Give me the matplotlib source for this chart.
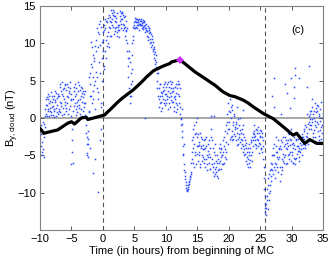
import numpy as np
import matplotlib
matplotlib.use("Agg")
import matplotlib.pyplot as plt

plt.rcParams['font.family'] = ['Liberation Sans', 'DejaVu Sans']

# ---- data ----
# scatter values sampled every 0.1 h starting at -10 h (series A)
scatter_start = -10.0
scatter_step = 0.1
scatter_vals = [
    -1.5, -3.8, -2.2, -5.0, -1.8, -4.2, -2.6, -0.8, 1.2, 2.5,
    0.5, 2.8, 1.0, 3.2, 0.3, 2.0, 1.4, 3.5, 0.8, 2.2,
    1.6, 0.4, 3.0, 1.0, 2.4, 0.2, 3.4, 1.8, 0.6, 2.9,
    1.2, 4.2, 0.8, 3.6, 2.0, 4.8, 1.4, 3.0, 0.5, 4.4,
    2.2, 3.8, 1.0, 4.6, 2.8, 0.6, 3.4, 1.6, 4.0, 2.4,
    0.2, -3.0, -6.0, 1.0, 3.6, 2.0, 4.6, 1.2, 3.2, 0.8,
    2.4, 4.8, 1.4, 3.8, 0.6, 4.2, 2.2, 3.4, 1.0, 2.8,
    3.2, 0.4, 2.0, -1.0, -2.5, -4.7, -3.5, -1.8, 0.8, 3.0,
    4.5, 10.2, 6.8, 2.0, 8.4, 3.6, 7.6, 5.0, 1.2, 9.0,
    12.0, 4.0, 9.5, 2.5, 11.2, 6.0, 13.0, 1.5, 10.2, 8.0,
    10.5, 7.0, 12.5, 9.0, 13.2, 8.0, 11.0, 12.8, 10.0, 13.8,
    9.5, 12.0, 13.5, 11.0, 14.0, 12.5, 13.8, 11.2, 14.2, 12.0,
    13.6, 12.2, 14.0, 11.0, 12.5, 10.8, 11.8, 13.0, 12.0, 14.0,
    13.2, 14.2, 11.8, 13.5, 12.5, 11.0, 13.0, 10.5, 12.0, 9.0,
    7.0, 4.0, 9.0, 2.0, 6.0, 3.0, 8.5, 5.0, 10.5, 12.0,
    12.5, 13.0, 12.2, 13.3, 12.8, 12.0, 13.1, 12.6, 11.8, 13.0,
    12.4, 13.2, 12.7, 11.9, 12.9, 12.3, 13.0, 11.5, 12.6, 12.1,
    11.0, 12.3, 10.5, 11.8, 12.0, 10.0, 11.2, 9.5, 11.0, 10.2,
    9.0, 8.0, 9.5, 7.2, 8.4, 6.8, 5.0, 3.0, 6.0, 1.5,
    4.5, 2.0, 3.5, 1.0, 3.0, 4.2, 2.5, 3.8, 1.8, 4.8,
    3.2, 2.0, 4.5, 1.2, 3.6, 2.8, 5.0, 1.5, 3.0, 4.0,
    4.8, 2.2, 3.6, 1.0, 4.2, 2.6, 0.8, 3.4, 1.8, 4.5,
    5.0, 2.0, 4.0, 0.5, -1.0, 1.2, -2.5, -3.8, -4.8, -6.2,
    -7.3, -8.2, -9.0, -9.6, -9.8, -9.5, -9.0, -8.6, -8.2, -7.8,
    -7.5, -3.0, -5.5, -1.5, -4.0, -6.5, -2.2, -5.0, -0.5, -3.8,
    -2.5, -5.8, -3.2, -4.5, -2.0, -6.2, -3.8, -5.0, -2.8, -4.2,
    -5.5, -3.0, -6.5, -4.0, -2.5, -5.0, -7.0, -3.5, -4.8, -6.0,
    -4.0, -6.8, 0.2, -3.0, -5.5, -7.2, -4.5, -6.0, -3.5, -7.5,
    -6.5, -7.8, -5.0, -7.0, -4.0, -6.0, -3.5, -5.2, -4.0, -6.2,
    -5.0, -3.0, -6.0, -2.5, -4.2, -1.0, -5.5, -2.0, 0.5, -3.5,
    1.0, -1.5, 2.5, -2.5, 0.0, -3.0, 1.8, -1.0, -2.2, 0.5,
    -1.5, -3.0, -0.5, -2.0, 1.5, -3.5, -1.0, -2.5, 0.0, -4.0,
    -2.0, -3.5, -1.0, -4.5, -2.5, -5.0, -3.0, -5.8, -4.0, -6.2,
    -5.5, -4.0, -6.0, -3.5, -6.5, -5.0, -3.0, -4.5, -2.0, -3.8,
    -2.5, -1.0, -3.5, -1.5, -4.0, -2.0, -1.2, -3.0, -4.7, -2.5,
    -3.5, -1.8, -4.2, -2.0, -3.0, -5.5, -8.0, -10.5, -12.0, -13.0,
    -11.5, -9.5, -12.2, -8.0, -10.0, -7.0, -9.0, -6.0, -8.5, -5.0,
    -5.0, -7.5, -3.5, -6.0, -8.0, -4.5, -2.5, -6.5, -3.0, -5.5,
    -4.0, -6.5, -8.5, -3.0, -5.5, -7.0, -2.5, -4.8, -6.0, -3.5,
    -5.0, -3.0, -4.2, -6.0, -2.0, -3.8, -5.5, -2.8, -4.5, -1.5,
    -3.5, -5.0, -6.0, -4.0, -2.5, -5.5, -6.2, -3.0, -4.8, -2.0,
    -3.8, -5.2, -4.0, -2.5, -4.5, -3.0, -5.0, -2.2, -3.5, -1.5,
    -2.8, -4.0, -1.0, -3.2, 0.5, -2.0, -3.5, -0.5, -1.5, 1.0,
    0.5, -1.5, 1.5, -0.5, -2.0, 0.0, 1.0, -1.0, -2.5, 0.8,
    -0.5, 1.8, -1.8, 0.3, -3.0, 1.2, -1.2, -3.5, 0.0, -2.0,
    -1.0,
]

# series B, sampled every 0.1 h starting at -9.95 h
scatter_b_start = -9.95
scatter_b_vals = [
    -2.8, -1.0, -4.5, -3.2, -0.6, -2.0, -5.2, -1.2, 0.2, 1.8,
    1.8, 0.2, 2.5, 1.2, 2.9, 0.9, 2.3, 0.4, 3.0, 1.5,
    2.6, 1.2, 0.1, 2.2, 3.6, 1.4, 0.8, 2.7, 3.2, 1.0,
    3.0, 2.2, 4.6, 1.6, 3.2, 0.4, 3.9, 2.6, 4.0, 1.8,
    4.5, 1.4, 3.0, 2.0, 4.2, 3.6, 1.2, 4.8, 2.6, 3.2,
    -1.5, -4.5, 2.6, 4.2, 1.6, 3.0, 0.4, 4.0, 2.2, 1.6,
    3.6, 1.8, 4.4, 2.6, 3.0, 1.2, 4.0, 0.3, 3.6, 2.0,
    1.5, 3.6, 0.0, -2.0, -3.5, -5.0, -2.8, 1.0, 5.5, 6.0,
    7.2, 3.0, 9.5, 5.5, 2.6, 8.0, 4.4, 9.6, 6.2, 10.4,
    5.5, 11.5, 3.5, 12.6, 7.5, 9.8, 2.0, 12.2, 5.0, 11.5,
    9.0, 11.8, 6.5, 12.0, 10.5, 13.0, 9.6, 11.5, 13.4, 12.2,
    13.0, 11.0, 14.4, 12.8, 13.2, 14.5, 12.2, 13.6, 13.0, 11.6,
    12.8, 13.4, 11.5, 12.2, 11.8, 12.5, 13.6, 14.3, 13.2, 12.6,
    14.0, 12.6, 13.8, 12.0, 13.6, 12.2, 11.6, 11.8, 10.0, 8.0,
    5.5, 8.0, 3.0, 7.5, 4.5, 10.0, 6.5, 11.0, 12.2, 12.8,
    12.0, 13.4, 12.9, 12.4, 13.2, 12.5, 12.8, 13.2, 12.4, 12.6,
    13.0, 12.0, 12.5, 13.1, 12.2, 12.8, 12.0, 12.4, 11.8, 11.6,
    11.6, 10.8, 12.0, 11.4, 10.6, 11.5, 10.2, 10.6, 9.8, 9.2,
    8.6, 9.2, 7.8, 8.8, 7.5, 6.0, 4.0, 6.5, 2.5, 4.0,
    3.0, 4.6, 2.2, 3.4, 1.4, 3.6, 4.5, 2.0, 3.2, 2.4,
    4.2, 3.0, 2.5, 4.8, 2.0, 4.2, 3.4, 2.4, 4.6, 2.2,
    3.5, 4.0, 1.5, 2.8, 3.0, 4.6, 2.0, 1.2, 4.0, 3.2,
    3.0, 4.5, 1.5, -0.2, 0.0, -1.8, -0.8, -5.0, -3.5, -7.0,
    -7.8, -8.6, -9.4, -9.7, -9.6, -9.2, -8.8, -8.4, -7.9, -7.2,
    -6.0, -4.5, -2.5, -6.0, -1.0, -3.5, -4.5, -6.2, -2.0, -4.8,
    -3.8, -2.2, -5.0, -3.6, -6.5, -4.0, -2.6, -5.8, -3.6, -5.2,
    -4.2, -6.0, -2.8, -5.5, -3.8, -6.2, -4.4, -5.2, -3.0, -6.8,
    -5.2, -2.5, -1.5, -6.2, -4.0, -6.5, -7.8, -5.0, -6.8, -5.8,
    -7.2, -6.0, -8.0, -5.5, -6.8, -4.6, -5.8, -4.2, -6.8, -5.0,
    -4.5, -6.2, -3.8, -5.2, -1.8, -4.6, -3.2, -0.5, -1.5, 2.0,
    -0.5, 0.8, -2.8, 1.5, -1.8, -2.4, -0.6, -2.8, 0.2, -1.2,
    -2.4, -0.8, -3.6, -1.4, -2.8, -0.2, -2.2, -3.2, -1.6, -2.8,
    -3.0, -1.5, -3.8, -2.2, -4.2, -3.6, -4.8, -3.4, -5.2, -4.6,
    -6.5, -5.0, -4.5, -5.6, -4.0, -3.2, -5.8, -2.6, -3.0, -2.2,
    -1.8, -3.0, -2.4, -3.6, -1.6, -2.8, -3.8, -2.0, -3.4, -1.6,
    -2.4, -4.0, -2.6, -4.6, -3.8, -6.5, -9.5, -11.5, -12.6, -12.0,
    -10.5, -11.0, -9.0, -11.0, -7.5, -9.8, -6.8, -7.8, -6.2, -7.0,
    -4.0, -6.5, -5.0, -7.0, -3.8, -6.2, -4.5, -5.2, -7.2, -4.2,
    -5.2, -3.8, -7.5, -4.2, -6.5, -3.2, -5.8, -3.8, -5.2, -2.6,
    -4.0, -6.2, -3.4, -5.0, -3.0, -4.8, -2.2, -3.6, -5.8, -3.0,
    -4.6, -6.0, -3.4, -5.4, -3.6, -4.2, -5.4, -2.8, -3.8, -4.4,
    -2.8, -4.4, -5.8, -3.4, -3.6, -4.2, -2.6, -4.0, -2.6, -3.2,
    -1.8, -3.6, -2.4, -1.2, -2.6, -0.8, -2.8, 0.2, -1.0, -0.2,
    -1.0, 1.0, -0.2, -2.6, 0.6, -1.6, 2.0, -0.4, 1.4, -1.2,
    1.0, -0.8, 1.6, -2.4, -0.4, -1.6, 2.2, -2.8, -1.0, 0.6,
]

# isolated points
extra_t = [-2.3, -2.0, -1.6, -1.2, -0.8, -0.5, -0.3, -5.0, 6.7, 15.0, 17.6,
           20.5, 22.2, 26.9, 27.2, 27.2, 28.3, 28.9, 29.2, 29.7, 29.9, 30.4,
           30.4, 30.5, 30.6, 31.1, 32.5, 32.8, 33.3, 34.3]
extra_v = [-5.2, -4.0, -7.4, -5.5, -9.9, -3.0, -1.5, -6.2, 0.0, 0.0, 0.3,
           1.1, 1.1, 3.0, 5.3, 1.5, 0.6, 4.5, 3.3, 1.3, 5.3, 4.2,
           2.7, 6.7, 5.8, 5.3, 4.2, 6.9, 2.6, 0.6]

# integrated (black) curve
curve_t = [-10.0, -9.4, -8.7, -7.2, -5.6, -5.0, -4.5, -3.45, -2.65, -2.4,
           -1.06, 0.26, 0.8, 1.1, 2.2, 3.0, 3.77, 4.8, 5.9, 6.95, 8.0, 8.8,
           9.6, 10.65, 10.9, 12.24, 13.0, 14.6, 16.2, 17.8, 19.1, 20.2, 21.0,
           22.3, 23.1, 23.9, 25.5, 27.1, 28.7, 30.25, 30.8, 32.1, 32.9, 34.0,
           35.0]
curve_v = [-1.4, -2.05, -1.9, -1.6, -0.7, -0.5, -0.8, 0.0, 0.1, -0.2,
           0.1, 0.4, 0.85, 1.07, 2.0, 2.6, 3.1, 3.75, 4.6, 5.5, 6.3, 6.65,
           6.96, 7.3, 7.5, 7.8, 7.3, 6.2, 5.3, 4.4, 3.5, 3.0, 2.85,
           2.4, 2.0, 1.5, 0.6, -0.1, -1.2, -2.3, -2.05, -3.4, -2.9, -3.4,
           -3.4]

peak_t = [12.24]
peak_v = [7.8]

x_ticks = [-10, -5, 0, 5, 10, 15, 20, 25, 30, 35]
y_ticks = [-10, -5, 0, 5, 10, 15]
mc_bounds = [0, 25.7]

# ---- plot ----
fig = plt.figure(figsize=(3.32, 2.56), dpi=100)
ax = fig.add_axes([0.1205, 0.1016, 0.8525, 0.8750])

scatter_t = scatter_start + scatter_step * np.arange(len(scatter_vals))
scatter_b_t = scatter_b_start + scatter_step * np.arange(len(scatter_b_vals))
ax.axhline(0, color='#a0a0a0', lw=1.3, zorder=1)
for b in mc_bounds:
    ax.axvline(b, color='#555555', lw=0.8, ls=(0, (4, 3)), zorder=1)

dot = dict(ls='none', marker='s', color='#2a4bff', ms=1.1, mew=0, zorder=2)
ax.plot(scatter_t, scatter_vals, **dot)
ax.plot(scatter_b_t, scatter_b_vals, **dot)
ax.plot(extra_t, extra_v, **dot)
ax.plot(curve_t, curve_v, '-', color='black', lw=2.3, zorder=3)
ax.plot(peak_t, peak_v, 'D', color='#cc33ee', ms=4, mew=0, zorder=4)

ax.set_xlim(-10, 35)
ax.set_ylim(-15, 15)
ax.set_xticks(x_ticks)
ax.set_yticks(y_ticks)
ax.tick_params(direction='in', length=3, width=0.6, labelsize=8,
               top=True, right=True, colors='#404040', labelcolor='black', pad=3)
for s in ax.spines.values():
    s.set_color('#808080')
    s.set_linewidth(0.8)

ax.set_xlabel('Time (in hours) from beginning of MC', fontsize=8, labelpad=1)
ax.set_ylabel(r'B$_{\mathregular{y,cloud}}$ (nT)', fontsize=8)
ax.yaxis.set_label_coords(-0.068, 0.5)
ax.text(31, 11.8, '(c)', fontsize=8, ha='center', va='center')

fig.savefig('out.png', dpi=100)
